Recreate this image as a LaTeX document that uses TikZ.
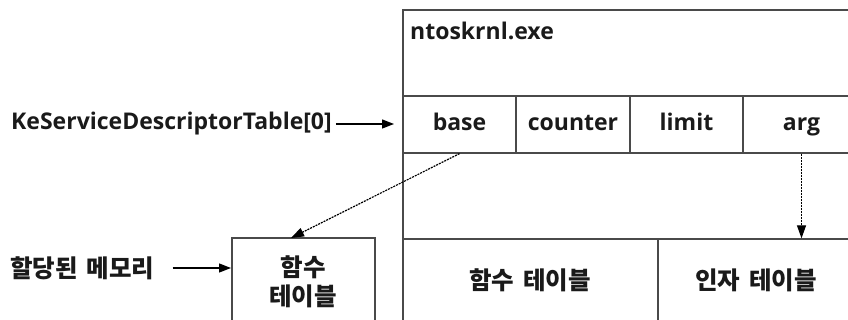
\documentclass[tikz,border=0pt]{standalone}
\usepackage{fontspec}
\setmainfont{Open Sans}
\newfontfamily\kr{Noto Sans CJK KR}[WordSpace=1.6]
\usetikzlibrary{arrows.meta,calc}
\definecolor{linec}{HTML}{4A4A4A}
\definecolor{txtc}{HTML}{1A1A1A}
\tikzset{
  cell/.style={draw=linec, line width=1.3pt, rectangle, inner sep=0pt, text=txtc, text height=17pt, text depth=5pt, font=\bfseries\fontsize{23}{28}\selectfont},
  lbl/.style={inner sep=0pt, text=txtc, font=\bfseries\fontsize{23}{28}\selectfont},
  krl/.style={inner sep=0pt, text=txtc, font=\kr\bfseries\fontsize{24.5}{30}\selectfont},
  solidarrow/.style={draw=black, line width=1.3pt, -{Triangle[length=12pt,width=9pt]}},
  dotarrow/.style={draw=black, line width=1.2pt, dash pattern=on 2pt off 1pt, -{Triangle[length=13pt,width=9pt]}},
}
\begin{document}
\begin{tikzpicture}[x=1pt,y=-1pt]
\useasboundingbox (0,0) rectangle (848,320);
\clip (0,0) rectangle (848,320);
% big box cells
\node[cell, minimum width=460pt, minimum height=86pt] (top) at (633,53) {};
\node[lbl, anchor=west] (title) at (410,31) {ntoskrnl.exe};
\node[cell, minimum width=113pt, minimum height=57pt] (base) at (459.5,124.5) {base};
\node[cell, minimum width=114pt, minimum height=57pt] (counter) at (573,124.5) {counter};
\node[cell, minimum width=113pt, minimum height=57pt] (limit) at (686.5,124.5) {limit};
\node[cell, minimum width=117pt, minimum height=57pt] (arg) at (801.5,124.5) {arg};
\node[cell, minimum width=460pt, minimum height=86pt] (mid) at (633,196) {};
\node[cell, minimum width=255pt, minimum height=100pt] (functab) at (530.5,289) {};
\node[cell, minimum width=210pt, minimum height=100pt] (argtab) at (763,289) {};
\node[krl] (functabt) at (530,280) {함수 테이블};
\node[krl] (argtabt) at (756,280) {인자 테이블};
% small box
\node[cell, minimum width=143pt, minimum height=100pt] (mem) at (303.5,288) {};
\node[krl] (memt1) at (303,267) {함수};
\node[krl] (memt2) at (303,296) {테이블};
% left labels
\node[lbl, anchor=west] (kst) at (11,124) {KeServiceDescriptorTable[0]};
\node[krl, anchor=west] (alloc) at (10,268) {할당된 메모리};
\coordinate (kstend) at (394,124);
\coordinate (allocend) at (231,268);
\draw[solidarrow] ($(kst.east)+(4,0)$) -- (kstend);
\draw[solidarrow] ($(alloc.east)+(18,0)$) -- (allocend);
% dotted arrows
\coordinate (memin) at (291,238);
\draw[dotarrow] (base.south) -- (memin);
\draw[dotarrow] (arg.south) -- (arg.south |- argtab.north);
\end{tikzpicture}
\end{document}
